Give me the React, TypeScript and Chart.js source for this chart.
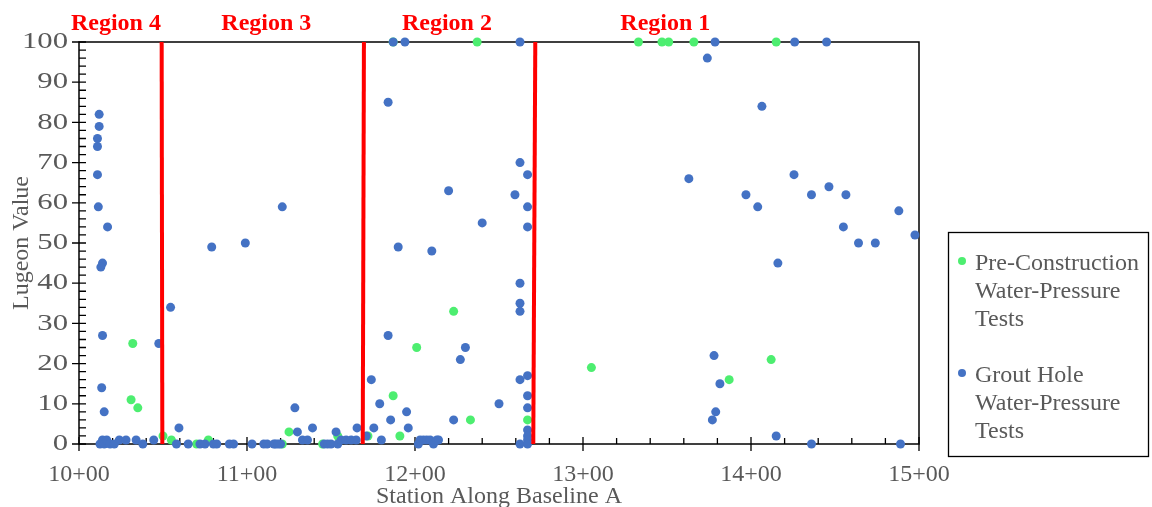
import React, { useEffect, useRef } from 'react';
import { Chart, registerables } from 'chart.js';

Chart.register(...registerables);

// ---- Data ----
const preConstructionStation = [
  1031, 1032, 1035, 1050, 1055, 1070, 1077, 1121, 1125, 1145, 1154, 1172, 1187, 1191,
  1201, 1223, 1233, 1267, 1187, 1237, 1333, 1347, 1351, 1366, 1415, 1305, 1387, 1412,
];
const preConstructionLugeon = [
  11, 25, 9, 2, 1, 0, 1, 0, 3, 0, 2, 2, 12, 2,
  24, 33, 6, 6, 100, 100, 100, 100, 100, 100, 100, 19, 16, 21,
];

const groutStation = [
  // Region 4
  1011, 1011, 1011.5, 1011, 1012, 1012, 1017, 1014, 1013, 1014, 1013.5, 1015,
  1012.5, 1014, 1015, 1016.5, 1018.5, 1021, 1024, 1028, 1034, 1038, 1044.5,
  1047.5,
  // Region 3
  1054.5, 1059.5, 1058, 1065, 1072, 1075, 1080, 1082, 1089.5, 1092, 1079, 1099,
  1103, 1110, 1112, 1117, 1120, 1121, 1116, 1118.5, 1128.5, 1130, 1133, 1136, 1139,
  1146, 1148, 1150, 1153, 1154, 1156, 1159, 1162, 1165, 1165.5, 1171, 1174, 1175.5,
  1179, 1180, 1184, 1185.5, 1184, 1190, 1195, 1196,
  // Region 2
  1202, 1203, 1205, 1207, 1209, 1211, 1213, 1214, 1210, 1220, 1223, 1227, 1230, 1240,
  1250, 1259.5, 1262.5, 1262.5, 1262.5, 1262.5, 1262.5, 1262.5, 1267, 1267, 1267,
  1267, 1267, 1267, 1267, 1267, 1267, 1267, 1187, 1194, 1262.5,
  // Region 1
  1374, 1378.6, 1426, 1445, 1406.5, 1363, 1425.6, 1397, 1404, 1436, 1446.4, 1456.5,
  1488, 1455, 1464, 1474, 1497.6, 1416, 1378, 1381.5, 1379, 1377, 1415, 1436, 1489,
];
const groutLugeon = [
  74, 67, 59, 76, 79, 82, 54, 45, 44, 27, 14, 8,
  0, 1, 0, 1, 0, 0, 1, 1, 1, 0, 1,
  25,
  34, 4, 0, 0, 0, 0, 0, 0, 0, 0, 49, 50,
  0, 0, 0, 0, 0, 59, 0, 0, 9, 3, 1, 1, 4,
  0, 0, 0, 3, 0, 1, 1, 1, 1, 4, 2, 16, 4,
  10, 1, 27, 6, 85, 49, 8, 4,
  0, 1, 1, 1, 1, 0, 1, 1, 48, 63, 6, 21, 24, 55,
  10, 62, 70, 40, 35, 33, 16, 0, 67, 59, 54,
  17, 12, 9, 3.5, 2, 1, 0, 100, 100, 100,
  96, 100, 100, 100, 84, 66, 67, 62, 59, 62, 64, 62,
  58, 54, 50, 50, 52, 45, 22, 15, 8, 6, 2, 0, 0,
];

// Region boundary lines (station at top, station at bottom)
const boundaryTopStation = [1049.2, 1169.6, 1271.6];
const boundaryBottomStation = [1049.6, 1168.9, 1270.4];

const regionNames = ['Region 4', 'Region 3', 'Region 2', 'Region 1'];
const regionLabelStation = [1022, 1111.5, 1219, 1349];

const yTickValues = [0, 10, 20, 30, 40, 50, 60, 70, 80, 90, 100];

const legendLabels = [
  ['Pre-Construction', 'Water-Pressure', 'Tests'],
  ['Grout Hole', 'Water-Pressure', 'Tests'],
];

const xTitle = 'Station Along Baseline A';
const yTitle = 'Lugeon Value';

const GREEN = '#4DEE70';
const BLUE = '#4472C4';
const TEXT = '#595959';
const FONT = '"Liberation Serif", "Times New Roman", serif';

function toPoints(xs: number[], ys: number[]) {
  return xs.map((x, i) => ({ x, y: ys[i] }));
}

const framePlugin = {
  id: 'frame',
  beforeDatasetsDraw(chart: any) {
    const { ctx, chartArea: a, scales } = chart;
    const x = scales.x;
    const y = scales.y;
    ctx.save();
    ctx.strokeStyle = '#000';
    ctx.lineWidth = 1.5;
    ctx.strokeRect(a.left, a.top, a.right - a.left, a.bottom - a.top);
    ctx.lineWidth = 1.3;
    ctx.beginPath();
    for (let v = y.min; v <= y.max + 1e-6; v += 2) {
      const p = y.getPixelForValue(v);
      const major = Math.round(v) % 10 === 0;
      ctx.moveTo(a.left - (major ? 7 : 0), p);
      ctx.lineTo(a.left + 7, p);
    }
    for (let v = x.min; v <= x.max + 1e-6; v += 20) {
      const p = x.getPixelForValue(v);
      const major = Math.round(v) % 100 === 0;
      ctx.moveTo(p, a.bottom + (major ? 7 : 0));
      ctx.lineTo(p, a.bottom - (major ? 7 : 6));
    }
    ctx.stroke();
    ctx.restore();
  },
  afterDraw(chart: any) {
    const { ctx, chartArea: a, scales } = chart;
    const x = scales.x;
    const y = scales.y;
    ctx.save();
    // y tick labels (slightly wide, as in the reference)
    ctx.fillStyle = TEXT;
    ctx.font = `24px ${FONT}`;
    ctx.textAlign = 'right';
    ctx.textBaseline = 'middle';
    yTickValues.forEach((v) => {
      ctx.save();
      ctx.translate(a.left - 11, y.getPixelForValue(v));
      ctx.scale(1.28, 1);
      ctx.fillText(String(v), 0, 0);
      ctx.restore();
    });
    // region labels
    ctx.fillStyle = '#FF0000';
    ctx.font = `bold 24px ${FONT}`;
    ctx.textAlign = 'center';
    ctx.textBaseline = 'alphabetic';
    regionNames.forEach((n, i) => {
      ctx.fillText(n, x.getPixelForValue(regionLabelStation[i]), 30);
    });
    // axis titles
    ctx.fillStyle = TEXT;
    ctx.font = `24px ${FONT}`;
    ctx.fillText(xTitle, (a.left + a.right) / 2, 503);
    ctx.save();
    ctx.translate(28, (a.top + a.bottom) / 2);
    ctx.rotate(-Math.PI / 2);
    ctx.fillText(yTitle, 0, 0);
    ctx.restore();
    // legend
    ctx.strokeStyle = '#000';
    ctx.lineWidth = 1.3;
    ctx.strokeRect(948.5, 232.5, 200, 224);
    ctx.textAlign = 'left';
    const colors = [GREEN, BLUE];
    const starts = [270, 382];
    legendLabels.forEach((lines, i) => {
      ctx.fillStyle = colors[i];
      ctx.beginPath();
      ctx.arc(962, starts[i] - 9, 4, 0, Math.PI * 2);
      ctx.fill();
      ctx.fillStyle = TEXT;
      lines.forEach((t, j) => ctx.fillText(t, 975, starts[i] + j * 28));
    });
    ctx.restore();
  },
};

export default function App() {
  const ref = useRef<HTMLCanvasElement | null>(null);
  useEffect(() => {
    document.body.style.margin = '0';
    if (!ref.current) return;
    const boundaryDatasets = boundaryTopStation.map((t, i) => ({
      type: 'line' as const,
      label: 'boundary' + i,
      data: [
        { x: t, y: 100 },
        { x: boundaryBottomStation[i], y: 0 },
      ],
      borderColor: '#FF0000',
      borderWidth: 4,
      pointRadius: 0,
      showLine: true,
      fill: false,
      order: 0,
      clip: false as any,
    }));
    const chart = new Chart(ref.current, {
      type: 'scatter',
      data: {
        datasets: [
          ...boundaryDatasets,
          {
            label: 'Grout Hole Water-Pressure Tests',
            data: toPoints(groutStation, groutLugeon),
            backgroundColor: BLUE,
            borderWidth: 0,
            pointRadius: 4.5,
            order: 1,
            clip: false as any,
          },
          {
            label: 'Pre-Construction Water-Pressure Tests',
            data: toPoints(preConstructionStation, preConstructionLugeon),
            backgroundColor: GREEN,
            borderWidth: 0,
            pointRadius: 4.5,
            order: 2,
            clip: false as any,
          },
        ] as any,
      },
      options: {
        animation: false,
        responsive: true,
        maintainAspectRatio: false,
        layout: { padding: { left: 0, top: 42, right: 233, bottom: 0 } },
        plugins: { legend: { display: false }, tooltip: { enabled: false } },
        scales: {
          x: {
            type: 'linear',
            min: 1000,
            max: 1500,
            grid: { display: false, drawTicks: false },
            border: { display: false },
            ticks: {
              stepSize: 100,
              padding: 16,
              color: TEXT,
              font: { family: FONT, size: 24 },
              maxRotation: 0,
              callback: (v: any) => `${Math.round(Number(v) / 100)}+00`,
            },
            afterFit: (s: any) => {
              s.height = 63;
            },
          },
          y: {
            type: 'linear',
            min: 0,
            max: 100,
            grid: { display: false, drawTicks: false },
            border: { display: false },
            ticks: {
              stepSize: 10,
              display: false,
            },
            afterFit: (s: any) => {
              s.width = 79;
            },
          },
        },
      },
      plugins: [framePlugin],
    });
    return () => chart.destroy();
  }, []);
  return (
    <div style={{ width: 1152, height: 507, position: 'relative' }}>
      <canvas ref={ref} />
    </div>
  );
}
